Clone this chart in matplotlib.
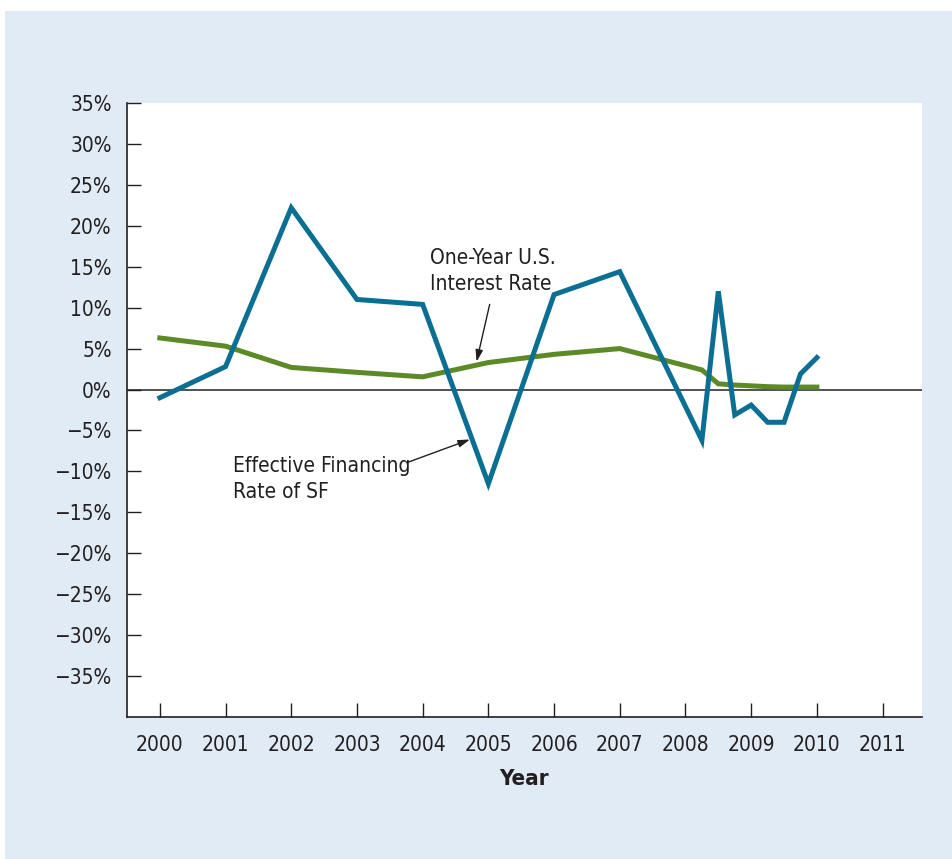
import matplotlib.pyplot as plt
from matplotlib.patches import Rectangle

# effective financing rate of SF (blue), annual then quarterly from 2008
sf_years = [2000, 2001, 2002, 2003, 2004, 2005, 2006, 2007,
            2008.25, 2008.5, 2008.75, 2009, 2009.25, 2009.5, 2009.75, 2010]
sf_rate = [-1.0, 2.8, 22.2, 11.0, 10.4, -11.5, 11.6, 14.4,
           -6.2, 12.0, -3.1, -1.9, -4.0, -4.0, 1.9, 3.9]

# one-year U.S. interest rate (green)
us_years = [2000, 2001, 2002, 2003, 2004, 2005, 2006, 2007,
            2008.25, 2008.5, 2008.75, 2009, 2009.25, 2009.5, 2009.75, 2010]
us_rate = [6.3, 5.3, 2.7, 2.1, 1.55, 3.3, 4.3, 5.0,
           2.4, 0.7, 0.55, 0.45, 0.35, 0.3, 0.3, 0.3]

year_ticks = list(range(2000, 2012))
pct_ticks = list(range(-35, 40, 5))

plt.rcParams['font.family'] = ['DejaVu Sans']
plt.rcParams['font.stretch'] = 'condensed'

ink = '#231f20'

fig = plt.figure(figsize=(9.53, 8.59), dpi=100)
bg = Rectangle((5 / 953, 0), 1, 1 - 11 / 859, transform=fig.transFigure,
               facecolor='#e1ebf5', edgecolor='none', zorder=-10)
fig.patches.append(bg)

ax = fig.add_axes([127 / 953, 1 - 717 / 859, 795 / 953, 614 / 859])
ax.set_zorder(1)
ax.set_facecolor('white')

ax.axhline(0, color='#333333', lw=1.2, zorder=1)
ax.plot(sf_years, sf_rate, color='#0b6f94', lw=3.6, solid_joinstyle='miter', zorder=3)
ax.plot(us_years, us_rate, color='#5b8a26', lw=3.6, zorder=2)

ax.set_xlim(1999.5, 2011.6)
ax.set_ylim(-40, 35)
ax.set_xticks(year_ticks)
ax.set_xticklabels([str(y) for y in year_ticks])
ax.set_yticks(pct_ticks)
ax.set_yticklabels([('\u2212' if p < 0 else '') + f'{abs(p)}%' for p in pct_ticks])
ax.tick_params(axis='both', direction='in', length=10, width=1, colors=ink,
               labelsize=15, labelcolor=ink)
ax.tick_params(axis='y', pad=11)
ax.tick_params(axis='x', pad=13)

for side in ['top', 'right']:
    ax.spines[side].set_visible(False)
for side in ['left', 'bottom']:
    ax.spines[side].set_color(ink)
    ax.spines[side].set_linewidth(1.2)

ax.set_xlabel('Year', fontsize=16, fontweight='bold', color=ink, labelpad=10)

arrow = dict(arrowstyle='-|>,head_length=0.7,head_width=0.22', color=ink, lw=1,
             shrinkA=0, shrinkB=0)
ax.text(2004.11, 14.5, 'One-Year U.S.\nInterest Rate', fontsize=15, color=ink,
        ha='left', va='center', linespacing=1.4)
ax.annotate('', xy=(2004.82, 3.4), xytext=(2005.02, 10.4), arrowprops=arrow)

ax.text(2001.11, -10.95, 'Effective Financing\nRate of SF', fontsize=15, color=ink,
        ha='left', va='center', linespacing=1.4)
ax.annotate('', xy=(2004.72, -6.1), xytext=(2003.77, -8.9), arrowprops=arrow)

fig.savefig('out.png', dpi=100, facecolor='white')
